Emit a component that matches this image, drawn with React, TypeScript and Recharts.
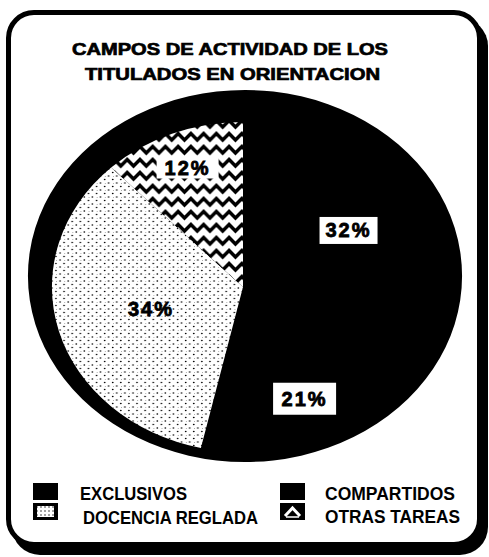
import React from "react";
import { PieChart, Pie, Cell, Legend } from "recharts";

const categories = ["EXCLUSIVOS", "COMPARTIDOS", "DOCENCIA REGLADA", "OTRAS TAREAS"];
const percents = [32, 21, 34, 12];
const titleLines = ["CAMPOS DE ACTIVIDAD DE LOS", "TITULADOS EN ORIENTACION"];

const data = categories.map((name, i) => ({ name, value: percents[i] }));
// full black disc drawn behind the slices (the thick rim of the old drawing)
const rimData = [{ name: "rim", value: 1 }];

const FILLS = ["#000", "#000", "url(#dots)", "url(#zigzag)"];

const W = 489;
const H = 557;
const RAD = Math.PI / 180;

// pie geometry: circle from recharts, stretched sideways with css
const IN = { cx: 243, cy: 287, r: 165, sx: 1.158 };
const RIM = { cx: 245, cy: 276, r: 186, sx: 1.167 };

// where each percentage sits, as a fraction of the radius
const LABEL_STYLE = [
    { f: 0.65, box: true, w: 58, h: 27 },
    { f: 0.75, box: true, w: 63, h: 32 },
    { f: 0.5, box: false, w: 0, h: 0 },
    { f: 0.78, box: true, w: 62, h: 22 },
];

const LEGEND_POS = [
    { x: 33, y: 5, tx: 80, ty: 22, tw: 107 },
    { x: 280, y: 5, tx: 325, ty: 22, tw: 130 },
    { x: 33, y: 25, tx: 83, ty: 46, tw: 175 },
    { x: 280, y: 25, tx: 325, ty: 45, tw: 135 },
];

const css = `
.inner-pie path.recharts-sector { transform-box: view-box; transform-origin: ${IN.cx}px ${IN.cy}px; transform: scaleX(${IN.sx}); }
.rim-pie path.recharts-sector { transform-box: view-box; transform-origin: ${RIM.cx}px ${RIM.cy}px; transform: scaleX(${RIM.sx}); }
`;

const FONT = "'Liberation Sans', Arial, sans-serif";

const renderLabel = (p: any) => {
    const s = LABEL_STYLE[p.index];
    const r = p.outerRadius * s.f;
    const x = p.cx + r * IN.sx * Math.cos(-p.midAngle * RAD);
    const y = p.cy + r * Math.sin(-p.midAngle * RAD);
    return (
        <g key={`lbl-${p.index}`}>
            {s.box && (
                <rect x={x - s.w / 2} y={y - s.h / 2} width={s.w} height={s.h} fill="#fff" />
            )}
            <text
                x={x}
                y={y + 7}
                textAnchor="middle"
                fontFamily={FONT}
                fontWeight={700}
                fontSize={20}
                letterSpacing={2}
                fill="#000"
                stroke="#000"
                strokeWidth={0.8}
            >
                {p.value}%
            </text>
        </g>
    );
};

const Swatch = ({ i, x, y }: { i: number; x: number; y: number }) => {
    if (i === 2) {
        return (
            <g>
                <rect x={x} y={y} width={25} height={17} fill="#000" />
                <rect x={x + 4} y={y + 3} width={17} height={11} fill="url(#dotsInv)" />
            </g>
        );
    }
    if (i === 3) {
        return (
            <g>
                <rect x={x} y={y} width={25} height={17} fill="#000" />
                <polyline
                    points={`${x + 5},${y + 13} ${x + 12.5},${y + 5} ${x + 20},${y + 13}`}
                    fill="none"
                    stroke="#fff"
                    strokeWidth={3}
                />
                <line x1={x + 6} y1={y + 14} x2={x + 19} y2={y + 14} stroke="#fff" strokeWidth={1.5} />
            </g>
        );
    }
    return <rect x={x} y={y} width={25} height={17} fill="#000" />;
};

const renderLegend = (props: any) => {
    const items = (props.payload || []).filter((e: any) => categories.includes(e.value));
    return (
        <svg width={W} height={60}>
            {items.map((e: any) => {
                const i = categories.indexOf(e.value);
                const pos = LEGEND_POS[i];
                return (
                    <g key={e.value}>
                        <Swatch i={i} x={pos.x} y={pos.y} />
                        <text
                            x={pos.tx}
                            y={pos.ty}
                            textLength={pos.tw}
                            lengthAdjust="spacingAndGlyphs"
                            fontFamily={FONT}
                            fontWeight={700}
                            fontSize={19}
                            fill="#000"
                        >
                            {e.value}
                        </text>
                    </g>
                );
            })}
        </svg>
    );
};

export default function App() {
    return (
        <div style={{ position: "absolute", left: 0, top: 0, width: W, height: H, background: "#fff" }}>
            <style>{css}</style>
            <svg width={0} height={0} style={{ position: "absolute" }}>
                <defs>
                    <pattern id="dots" width={7} height={7} patternUnits="userSpaceOnUse">
                        <rect width={7} height={7} fill="#fff" />
                        <circle cx={1} cy={1} r={0.75} fill="#000" />
                        <circle cx={4.5} cy={4.5} r={0.75} fill="#000" />
                        <circle cx={5} cy={1.5} r={0.4} fill="#666" />
                    </pattern>
                    <pattern id="dotsInv" width={4} height={4} patternUnits="userSpaceOnUse">
                        <rect width={4} height={4} fill="#fff" />
                        <circle cx={1} cy={1} r={0.7} fill="#000" />
                    </pattern>
                    <pattern id="zigzag" width={11} height={13} patternUnits="userSpaceOnUse">
                        <rect width={11} height={13} fill="#fff" />
                        <path
                            d="M-5.5,10 L0,3.5 L5.5,10 L11,3.5 L16.5,10"
                            fill="none"
                            stroke="#000"
                            strokeWidth={3.2}
                        />
                    </pattern>
                </defs>
            </svg>

            {/* rounded frame with its drop shadow */}
            <div
                style={{
                    position: "absolute",
                    left: 6,
                    top: 10,
                    width: 476,
                    height: 537,
                    boxSizing: "border-box",
                    border: "5px solid #000",
                    borderRadius: 28,
                    boxShadow: "6px 8px 0 #000",
                    background: "#fff",
                }}
            />

            <svg width={W} height={100} style={{ position: "absolute", left: 0, top: 0 }}>
                <text x={72} y={55} textLength={316} lengthAdjust="spacingAndGlyphs"
                    fontFamily={FONT} fontWeight={700} fontSize={16.5} fill="#000"
                    stroke="#000" strokeWidth={0.7}>
                    {titleLines[0]}
                </text>
                <text x={85} y={80} textLength={295} lengthAdjust="spacingAndGlyphs"
                    fontFamily={FONT} fontWeight={700} fontSize={16.5} fill="#000"
                    stroke="#000" strokeWidth={0.7}>
                    {titleLines[1]}
                </text>
            </svg>

            <div style={{ position: "absolute", left: 0, top: 0 }}>
                <PieChart width={W} height={H} margin={{ top: 0, right: 0, bottom: 0, left: 0 }}>
                    <Pie
                        data={rimData}
                        dataKey="value"
                        cx={RIM.cx}
                        cy={RIM.cy}
                        outerRadius={RIM.r}
                        fill="#000"
                        stroke="none"
                        legendType="none"
                        className="rim-pie"
                        isAnimationActive={false}
                    />
                    <Pie
                        data={data}
                        dataKey="value"
                        nameKey="name"
                        cx={IN.cx}
                        cy={IN.cy}
                        outerRadius={IN.r}
                        startAngle={90}
                        endAngle={-270}
                        stroke="none"
                        className="inner-pie"
                        label={renderLabel}
                        labelLine={false}
                        isAnimationActive={false}
                    >
                        {data.map((d, i) => (
                            <Cell key={`cell-${i}`} fill={FILLS[i]} />
                        ))}
                    </Pie>
                    <Legend
                        content={renderLegend}
                        wrapperStyle={{ position: "absolute", left: 0, top: 478, width: W, height: 60 }}
                    />
                </PieChart>
            </div>
        </div>
    );
}
